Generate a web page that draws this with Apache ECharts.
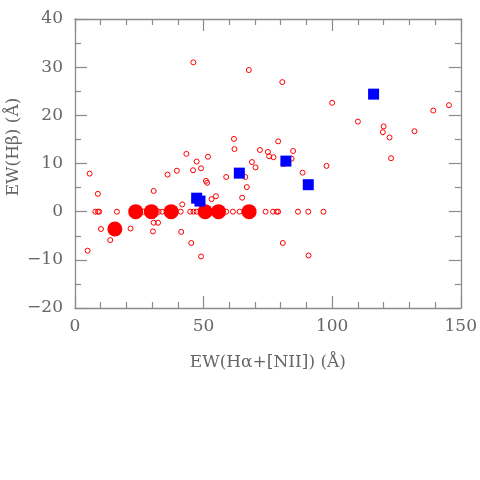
<!DOCTYPE html>
<html>
<head>
<meta charset="utf-8">
<script src="https://cdn.jsdelivr.net/npm/echarts@6/dist/echarts.min.js"></script>
<style>
  html, body { margin: 0; padding: 0; background: #fff; }
  #chart { width: 480px; height: 480px; }
</style>
</head>
<body>
<div id="chart"></div>
<script>
// small open circles: EW(Halpha+[NII]) vs EW(Hbeta)
var smallX = [46.0, 67.6, 43.3, 47.3, 51.7, 61.8, 62.0, 71.9, 75.0, 75.5, 77.2, 79.0, 80.6, 84.8, 84.2, 81.1,
  97.8, 88.5, 100.0, 110.0, 120.0, 119.7, 122.3, 132.0, 139.3, 145.4, 122.9, 80.8, 90.8,
  5.7, 8.9, 7.9, 8.9, 9.4, 16.3, 10.1, 13.7, 4.9, 21.6, 30.6, 32.3, 30.3, 30.6, 36.0, 39.6,
  45.9, 49.0, 50.9, 51.4, 58.8, 66.2, 66.8, 65.0, 68.8, 70.2, 41.7, 53.1, 54.8, 41.3, 45.2, 49.0,
  26.7, 32.5, 33.9, 41.1, 44.8, 46.1, 47.3, 58.8, 61.4, 64.0, 74.1, 77.0, 78.4, 79.0, 86.7, 90.7, 96.6];
var smallY = [31.0, 29.4, 12.0, 10.4, 11.4, 15.1, 13.0, 12.8, 12.4, 11.5, 11.3, 14.6, 26.9, 12.6, 11.0, 9.9,
  9.5, 8.1, 22.6, 18.7, 17.7, 16.5, 15.4, 16.7, 21.0, 22.1, 11.1, -6.5, -9.1,
  7.9, 3.7, 0, 0, 0, 0, -3.6, -5.9, -8.1, -3.5, -2.3, -2.3, -4.1, 4.3, 7.7, 8.5,
  8.6, 9.0, 6.4, 6.0, 7.2, 7.2, 5.1, 2.9, 10.3, 9.2, 1.5, 2.6, 3.2, -4.2, -6.5, -9.3,
  0, 0, 0, 0, 0, 0, 0, 0, 0, 0, 0, 0, 0, 0, 0, 0, 0];

// big filled red circles
var bigX = [15.5, 23.6, 29.7, 37.4, 50.6, 55.8, 67.7];
var bigY = [-3.6, 0, 0, 0, 0, 0, 0];

// blue squares
var sqX = [47.3, 48.6, 63.9, 82.0, 90.7, 116.1];
var sqY = [2.8, 2.2, 8.0, 10.5, 5.6, 24.4];

var xTicks = [0, 50, 100, 150];
var yTicks = [-20, -10, 0, 10, 20, 30, 40];

function pairs(xs, ys) {
  return xs.map(function (x, i) { return [x, ys[i]]; });
}

var axisGray = '#8a8a8a';
var textGray = '#666666';
var fontFam = 'DejaVu Serif';

function makeX(pos, labels) {
  return {
    type: 'value', position: pos,
    min: xTicks[0], max: xTicks[xTicks.length - 1], interval: 50,
    axisLine: { show: true, onZero: false, lineStyle: { color: axisGray, width: 1.3 } },
    axisTick: { show: true, inside: true, length: 12, lineStyle: { color: axisGray, width: 1.2 } },
    minorTick: { show: true, splitNumber: 5, length: 6, lineStyle: { color: axisGray, width: 1.2 } },
    splitLine: { show: false },
    axisLabel: { show: labels, margin: 10, fontFamily: fontFam, fontSize: 17, color: textGray },
    name: labels ? 'EW(H\u03b1+[NII]) (\u00c5)' : '',
    nameLocation: 'middle', nameGap: 46,
    nameTextStyle: { fontFamily: fontFam, fontSize: 17, color: textGray }
  };
}

function makeY(pos, labels) {
  return {
    type: 'value', position: pos,
    min: yTicks[0], max: yTicks[yTicks.length - 1], interval: 10,
    axisLine: { show: true, onZero: false, lineStyle: { color: axisGray, width: 1.3 } },
    axisTick: { show: true, inside: true, length: 12, lineStyle: { color: axisGray, width: 1.2 } },
    minorTick: { show: true, splitNumber: 2, length: 6, lineStyle: { color: axisGray, width: 1.2 } },
    splitLine: { show: false },
    axisLabel: {
      show: labels, margin: 12, fontFamily: fontFam, fontSize: 17, color: textGray,
      formatter: function (v) { return v < 0 ? '\u2212' + Math.abs(v) : String(v); }
    }
  };
}

var chart = echarts.init(document.getElementById('chart'), null, { renderer: 'canvas' });
chart.setOption({
  animation: false,
  backgroundColor: '#fff',
  grid: { left: 75, right: 18.5, top: 19, bottom: 172, containLabel: false },
  xAxis: [makeX('bottom', true), makeX('top', false)],
  yAxis: [makeY('left', true), makeY('right', false)],
  graphic: [{
    type: 'text', x: 14, y: 147, rotation: Math.PI / 2,
    style: {
      text: 'EW(H\u03b2) (\u00c5)', fontFamily: fontFam, fontSize: 17, fill: textGray,
      align: 'center', verticalAlign: 'middle'
    }
  }],
  series: [
    {
      type: 'scatter', xAxisIndex: 0, yAxisIndex: 0,
      symbol: 'circle', symbolSize: 5,
      itemStyle: { color: 'rgba(0,0,0,0)', borderColor: '#ff0000', borderWidth: 1, opacity: 1 },
      data: pairs(smallX, smallY)
    },
    {
      type: 'scatter', xAxisIndex: 0, yAxisIndex: 0,
      symbol: 'circle', symbolSize: 15,
      itemStyle: { color: '#ff0000', opacity: 1 },
      data: pairs(bigX, bigY)
    },
    {
      type: 'scatter', xAxisIndex: 0, yAxisIndex: 0,
      symbol: 'rect', symbolSize: 11,
      itemStyle: { color: '#0000ff', opacity: 1 },
      data: pairs(sqX, sqY)
    }
  ]
});
</script>
</body>
</html>
